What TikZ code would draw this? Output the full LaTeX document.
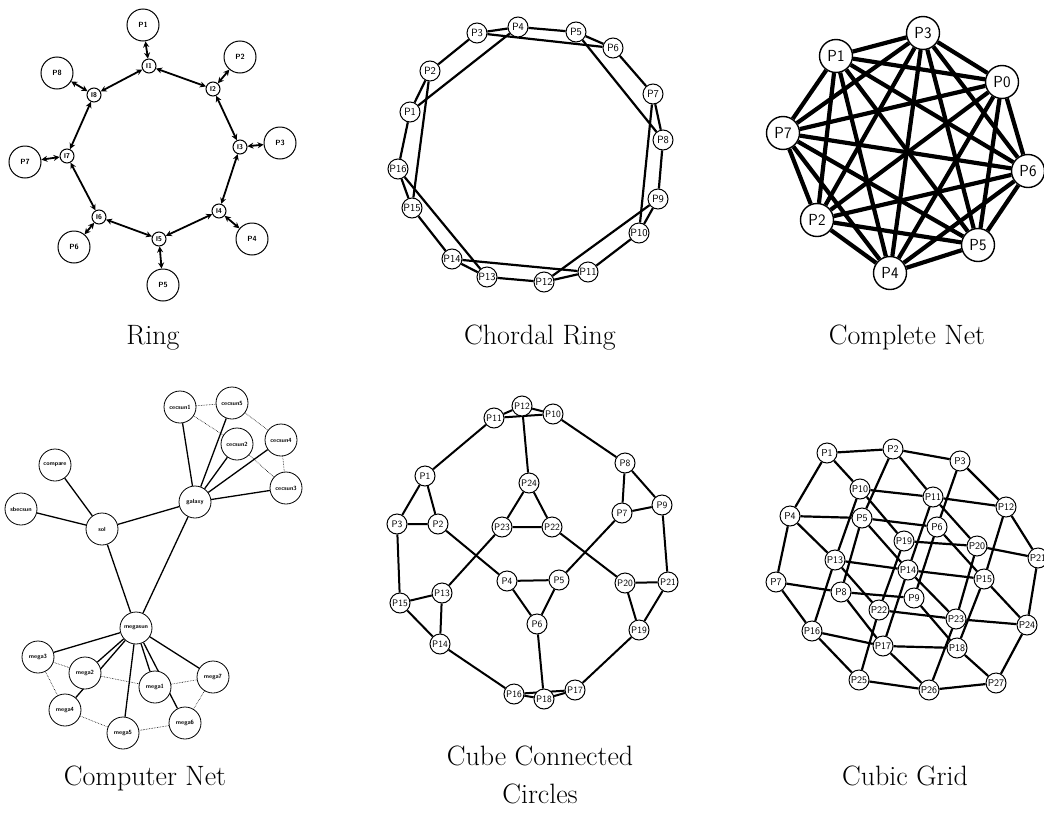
\documentclass[tikz,border=0pt]{standalone}
\usepackage{tikz}
\usetikzlibrary{arrows.meta,backgrounds}
\tikzset{
  pnode/.style={
    circle,
    draw=black,
    fill=white,
    inner sep=0pt,
    line width=1pt
  },
  ringproc/.style={pnode, minimum size=32pt, font=\fontsize{7.5}{7.5}\selectfont\sffamily\bfseries},
  ringif/.style={pnode, minimum size=14pt, font=\fontsize{7}{7}\selectfont\sffamily\bfseries},
  chordnode/.style={pnode, minimum size=20pt, font=\fontsize{10.5}{10.5}\selectfont\sffamily},
  fullnode/.style={pnode, minimum size=33pt, line width=1.4pt, font=\fontsize{16}{16}\selectfont\sffamily},
  hostnode/.style={pnode, minimum size=32pt, line width=0.8pt, font=\fontsize{6}{6}\selectfont\sffamily\bfseries},
  cccnode/.style={pnode, minimum size=20pt, font=\fontsize{9.5}{9.5}\selectfont\sffamily},
  gridnode/.style={pnode, minimum size=20pt, font=\fontsize{10}{10}\selectfont\sffamily},
  caption/.style={anchor=base, align=center, font=\fontsize{28}{38}\selectfont},
  ringlink/.style={{Stealth[length=6pt,width=6pt]}-{Stealth[length=6pt,width=6pt]}, line width=1.8pt},
  chordlink/.style={line width=2.2pt},
  fulllink/.style={line width=4.2pt},
  hostlink/.style={line width=1.3pt},
  lanlink/.style={line width=0.6pt, densely dotted},
  ccclink/.style={line width=2pt},
  gridlink/.style={line width=2.2pt}
}

\begin{document}
\begin{tikzpicture}[x=1pt, y=-1pt]
\useasboundingbox (0,0) rectangle (1044,814);

% ring
\node[ringproc] (rp1) at (143,25) {P1};
\node[ringproc] (rp2) at (240,57) {P2};
\node[ringproc] (rp3) at (280,143) {P3};
\node[ringproc] (rp4) at (252,239) {P4};
\node[ringproc] (rp5) at (163,285) {P5};
\node[ringproc] (rp6) at (74,247) {P6};
\node[ringproc] (rp7) at (25,162) {P7};
\node[ringproc] (rp8) at (57,73) {P8};
\node[ringif] (ri1) at (149,66) {I1};
\node[ringif] (ri2) at (213,89) {I2};
\node[ringif] (ri3) at (240,147) {I3};
\node[ringif] (ri4) at (219,211) {I4};
\node[ringif] (ri5) at (159,239) {I5};
\node[ringif] (ri6) at (99,217) {I6};
\node[ringif] (ri7) at (67,156) {I7};
\node[ringif] (ri8) at (94,95) {I8};

\draw[ringlink] (ri1) -- (ri2);
\draw[ringlink] (ri2) -- (ri3);
\draw[ringlink] (ri3) -- (ri4);
\draw[ringlink] (ri4) -- (ri5);
\draw[ringlink] (ri5) -- (ri6);
\draw[ringlink] (ri6) -- (ri7);
\draw[ringlink] (ri7) -- (ri8);
\draw[ringlink] (ri8) -- (ri1);
\draw[ringlink] (ri1) -- (rp1);
\draw[ringlink] (ri2) -- (rp2);
\draw[ringlink] (ri3) -- (rp3);
\draw[ringlink] (ri4) -- (rp4);
\draw[ringlink] (ri5) -- (rp5);
\draw[ringlink] (ri6) -- (rp6);
\draw[ringlink] (ri7) -- (rp7);
\draw[ringlink] (ri8) -- (rp8);

% chordal ring
\node[chordnode] (c1) at (410,112) {P1};
\node[chordnode] (c2) at (430,71) {P2};
\node[chordnode] (c3) at (477,33) {P3};
\node[chordnode] (c4) at (518,27) {P4};
\node[chordnode] (c5) at (576,32) {P5};
\node[chordnode] (c6) at (613,48) {P6};
\node[chordnode] (c7) at (653,94) {P7};
\node[chordnode] (c8) at (663,140) {P8};
\node[chordnode] (c9) at (658,199) {P9};
\node[chordnode] (c10) at (639,233) {P10};
\node[chordnode] (c11) at (588,272) {P11};
\node[chordnode] (c12) at (544,282) {P12};
\node[chordnode] (c13) at (487,277) {P13};
\node[chordnode] (c14) at (452,259) {P14};
\node[chordnode] (c15) at (412,208) {P15};
\node[chordnode] (c16) at (398,169) {P16};

\begin{scope}[on background layer]
\draw[chordlink] (c1) -- (c2) -- (c3) -- (c4) -- (c5) -- (c6) -- (c7) -- (c8) -- (c9);
\draw[chordlink] (c9) -- (c10) -- (c11) -- (c12) -- (c13) -- (c14) -- (c15) -- (c16) -- (c1);
\draw[chordlink] (c1) -- (c4);
\draw[chordlink] (c3) -- (c6);
\draw[chordlink] (c5) -- (c8);
\draw[chordlink] (c7) -- (c10);
\draw[chordlink] (c9) -- (c12);
\draw[chordlink] (c11) -- (c14);
\draw[chordlink] (c13) -- (c16);
\draw[chordlink] (c15) -- (c2);
\end{scope}

% complete net
\node[fullnode] (k0) at (1002,82) {P0};
\node[fullnode] (k1) at (836,56) {P1};
\node[fullnode] (k2) at (817,220) {P2};
\node[fullnode] (k3) at (923,33) {P3};
\node[fullnode] (k4) at (890,273) {P4};
\node[fullnode] (k5) at (978,245) {P5};
\node[fullnode] (k6) at (1028,171) {P6};
\node[fullnode] (k7) at (783,133) {P7};

\begin{scope}[on background layer]
\draw[fulllink] (k0) -- (k1) (k0) -- (k2) (k0) -- (k3) (k0) -- (k4) (k0) -- (k5) (k0) -- (k6) (k0) -- (k7);
\draw[fulllink] (k1) -- (k2) (k1) -- (k3) (k1) -- (k4) (k1) -- (k5) (k1) -- (k6) (k1) -- (k7);
\draw[fulllink] (k2) -- (k3) (k2) -- (k4) (k2) -- (k5) (k2) -- (k6) (k2) -- (k7);
\draw[fulllink] (k3) -- (k4) (k3) -- (k5) (k3) -- (k6) (k3) -- (k7);
\draw[fulllink] (k4) -- (k5) (k4) -- (k6) (k4) -- (k7);
\draw[fulllink] (k5) -- (k6) (k5) -- (k7);
\draw[fulllink] (k6) -- (k7);
\end{scope}

% computer net
\node[hostnode] (cecsun1) at (180,407) {cecsun1};
\node[hostnode] (cecsun5) at (232,403) {cecsun5};
\node[hostnode] (cecsun2) at (237,444) {cecsun2};
\node[hostnode] (cecsun4) at (281,440) {cecsun4};
\node[hostnode] (cecsun3) at (286,488) {cecsun3};
\node[hostnode] (compare) at (55,465) {compare};
\node[hostnode] (galaxy) at (195,502) {galaxy};
\node[hostnode] (sbecsun) at (21,509) {sbecsun};
\node[hostnode] (sol) at (102,529) {sol};
\node[hostnode] (megasun) at (136,628) {megasun};
\node[hostnode] (mega3) at (38,657) {mega3};
\node[hostnode] (mega2) at (85,673) {mega2};
\node[hostnode] (mega1) at (155,687) {mega1};
\node[hostnode] (mega7) at (213,677) {mega7};
\node[hostnode] (mega4) at (65,710) {mega4};
\node[hostnode] (mega6) at (185,723) {mega6};
\node[hostnode] (mega5) at (123,733) {mega5};

\begin{scope}[on background layer]
\draw[hostlink] (sol) -- (compare);
\draw[hostlink] (sol) -- (sbecsun);
\draw[hostlink] (sol) -- (galaxy);
\draw[hostlink] (sol) -- (megasun);
\draw[hostlink] (galaxy) -- (megasun);
\draw[hostlink] (galaxy) -- (cecsun1);
\draw[hostlink] (galaxy) -- (cecsun5);
\draw[hostlink] (galaxy) -- (cecsun2);
\draw[hostlink] (galaxy) -- (cecsun4);
\draw[hostlink] (galaxy) -- (cecsun3);
\draw[hostlink] (megasun) -- (mega1);
\draw[hostlink] (megasun) -- (mega2);
\draw[hostlink] (megasun) -- (mega3);
\draw[hostlink] (megasun) -- (mega4);
\draw[hostlink] (megasun) -- (mega5);
\draw[hostlink] (megasun) -- (mega6);
\draw[hostlink] (megasun) -- (mega7);
\draw[lanlink] (cecsun1) -- (cecsun5) -- (cecsun4) -- (cecsun3) -- (cecsun2) -- (cecsun1);
\draw[lanlink] (mega3) -- (mega2) -- (mega1) -- (mega7) -- (mega6) -- (mega5) -- (mega4) -- (mega3);
\end{scope}

% cube connected circles
\node[cccnode] (q1) at (425,476) {P1};
\node[cccnode] (q2) at (438,524) {P2};
\node[cccnode] (q3) at (397,524) {P3};
\node[cccnode] (q4) at (507,581) {P4};
\node[cccnode] (q5) at (559,580) {P5};
\node[cccnode] (q6) at (537,624) {P6};
\node[cccnode] (q7) at (622,513) {P7};
\node[cccnode] (q8) at (625,463) {P8};
\node[cccnode] (q9) at (662,505) {P9};
\node[cccnode] (q10) at (553,414) {P10};
\node[cccnode] (q11) at (494,418) {P11};
\node[cccnode] (q12) at (522,406) {P12};
\node[cccnode] (q13) at (442,593) {P13};
\node[cccnode] (q14) at (440,644) {P14};
\node[cccnode] (q15) at (400,603) {P15};
\node[cccnode] (q16) at (514,694) {P16};
\node[cccnode] (q17) at (575,690) {P17};
\node[cccnode] (q18) at (544,699) {P18};
\node[cccnode] (q19) at (639,630) {P19};
\node[cccnode] (q20) at (625,583) {P20};
\node[cccnode] (q21) at (668,582) {P21};
\node[cccnode] (q22) at (552,527) {P22};
\node[cccnode] (q23) at (502,527) {P23};
\node[cccnode] (q24) at (529,483) {P24};

\begin{scope}[on background layer]
\draw[ccclink] (q10) -- (q11) -- (q12) -- (q10);
\draw[ccclink] (q1) -- (q2) -- (q3) -- (q1);
\draw[ccclink] (q7) -- (q8) -- (q9) -- (q7);
\draw[ccclink] (q22) -- (q23) -- (q24) -- (q22);
\draw[ccclink] (q4) -- (q5) -- (q6) -- (q4);
\draw[ccclink] (q13) -- (q14) -- (q15) -- (q13);
\draw[ccclink] (q19) -- (q20) -- (q21) -- (q19);
\draw[ccclink] (q16) -- (q17) -- (q18) -- (q16);
\draw[ccclink] (q11) -- (q1);
\draw[ccclink] (q12) -- (q24);
\draw[ccclink] (q10) -- (q8);
\draw[ccclink] (q3) -- (q15);
\draw[ccclink] (q2) -- (q4);
\draw[ccclink] (q23) -- (q13);
\draw[ccclink] (q22) -- (q20);
\draw[ccclink] (q7) -- (q5);
\draw[ccclink] (q9) -- (q21);
\draw[ccclink] (q14) -- (q16);
\draw[ccclink] (q6) -- (q18);
\draw[ccclink] (q19) -- (q17);
\end{scope}

% cubic grid
\node[gridnode] (g1) at (827,453) {P1};
\node[gridnode] (g2) at (893,449) {P2};
\node[gridnode] (g3) at (960,461) {P3};
\node[gridnode] (g4) at (790,516) {P4};
\node[gridnode] (g5) at (862,518) {P5};
\node[gridnode] (g6) at (937,527) {P6};
\node[gridnode] (g7) at (776,582) {P7};
\node[gridnode] (g8) at (841,592) {P8};
\node[gridnode] (g9) at (914,598) {P9};
\node[gridnode] (g10) at (860,489) {P10};
\node[gridnode] (g11) at (933,497) {P11};
\node[gridnode] (g12) at (1006,507) {P12};
\node[gridnode] (g13) at (835,560) {P13};
\node[gridnode] (g14) at (908,570) {P14};
\node[gridnode] (g15) at (984,579) {P15};
\node[gridnode] (g16) at (812,631) {P16};
\node[gridnode] (g17) at (883,646) {P17};
\node[gridnode] (g18) at (957,648) {P18};
\node[gridnode] (g19) at (904,541) {P19};
\node[gridnode] (g20) at (977,546) {P20};
\node[gridnode] (g21) at (1038,558) {P21};
\node[gridnode] (g22) at (879,610) {P22};
\node[gridnode] (g23) at (956,619) {P23};
\node[gridnode] (g24) at (1027,625) {P24};
\node[gridnode] (g25) at (859,680) {P25};
\node[gridnode] (g26) at (929,690) {P26};
\node[gridnode] (g27) at (996,683) {P27};

\begin{scope}[on background layer]
\draw[gridlink] (g1) -- (g2) -- (g3) (g4) -- (g5) -- (g6) (g7) -- (g8) -- (g9);
\draw[gridlink] (g1) -- (g4) -- (g7) (g2) -- (g5) -- (g8) (g3) -- (g6) -- (g9);
\draw[gridlink] (g10) -- (g11) -- (g12) (g13) -- (g14) -- (g15) (g16) -- (g17) -- (g18);
\draw[gridlink] (g10) -- (g13) -- (g16) (g11) -- (g14) -- (g17) (g12) -- (g15) -- (g18);
\draw[gridlink] (g19) -- (g20) -- (g21) (g22) -- (g23) -- (g24) (g25) -- (g26) -- (g27);
\draw[gridlink] (g19) -- (g22) -- (g25) (g20) -- (g23) -- (g26) (g21) -- (g24) -- (g27);
\draw[gridlink] (g1) -- (g10) -- (g19) (g2) -- (g11) -- (g20) (g3) -- (g12) -- (g21);
\draw[gridlink] (g4) -- (g13) -- (g22) (g5) -- (g14) -- (g23) (g6) -- (g15) -- (g24);
\draw[gridlink] (g7) -- (g16) -- (g25) (g8) -- (g17) -- (g26) (g9) -- (g18) -- (g27);
\end{scope}

% captions
\node[caption] (ringcap) at (153,344) {Ring};
\node[caption] (chordcap) at (540,344) {Chordal Ring};
\node[caption] (fullcap) at (907,344) {Complete Net};
\node[caption] (netcap) at (145,785) {Computer Net};
\node[caption] (ccccap) at (540,803) {Cube Connected\\Circles};
\node[caption] (gridcap) at (905,785) {Cubic Grid};

\end{tikzpicture}
\end{document}
